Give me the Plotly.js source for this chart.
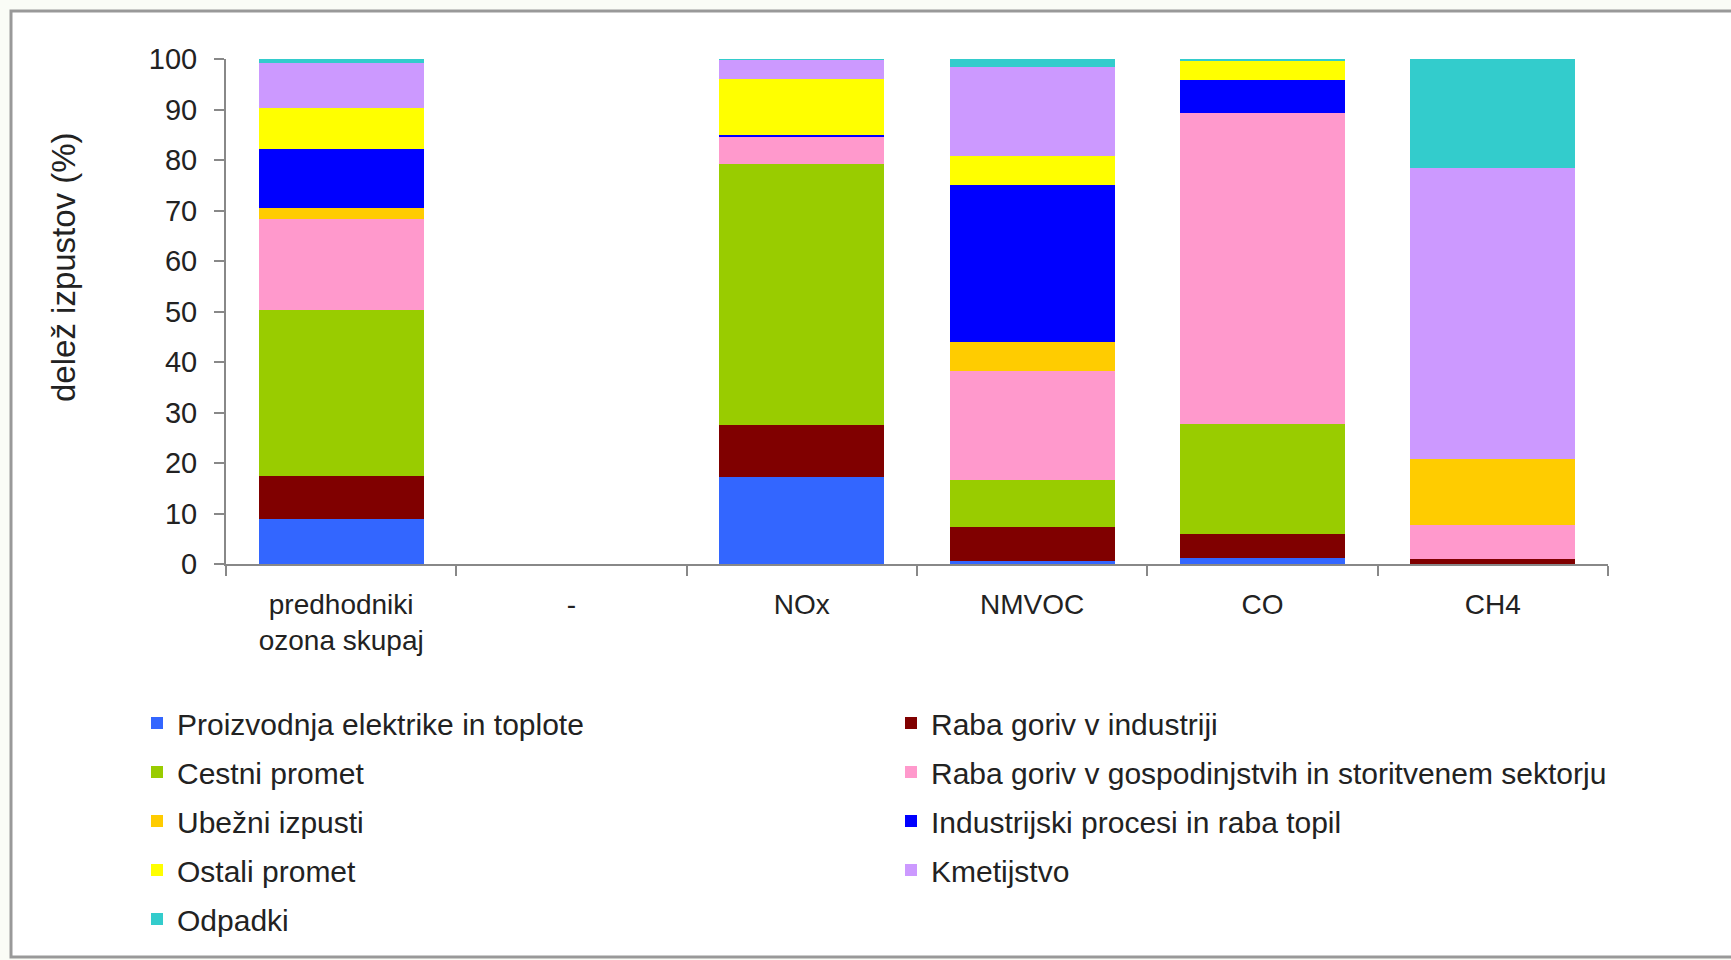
<!DOCTYPE html>
<html>
<head>
<meta charset="utf-8">
<script src="https://cdn.plot.ly/plotly-3.0.1.min.js"></script>
<style>
  html, body { margin: 0; padding: 0; background: #fafcf6; }
  #chart { width: 1731px; height: 960px; }
</style>
</head>
<body>
<div id="chart"></div>
<script>
// Delež izpustov predhodnikov ozona po sektorjih (%)
const categories = ['predhodniki<br>ozona skupaj', '-', 'NOx', 'NMVOC', 'CO', 'CH4'];

const proizvodnja   = [9.0,  null, 17.2,  0.5,  1.2,  0.1];
const industrija    = [8.4,  null, 10.3,  6.8,  4.8,  0.8];
const cestni        = [32.9, null, 51.7,  9.3, 21.8,  0.1];
const gospodinjstva = [18.0, null,  5.3, 21.6, 61.6,  6.8];
const ubezni        = [2.2,  null,  0.0,  5.8,  0.0, 13.0];
const procesi       = [11.6, null,  0.5, 31.1,  6.4,  0.0];
const ostali        = [8.2,  null, 11.1,  5.6,  3.9,  0.0];
const kmetijstvo    = [8.9,  null,  3.7, 17.8,  0.0, 57.6];
const odpadki       = [0.8,  null,  0.2,  1.5,  0.3, 21.6];

// series in stacking order (bottom to top); legend column per series
const series = [
  { name: 'Proizvodnja elektrike in toplote', y: proizvodnja, color: '#3366FF', legend: 'legend' },
  { name: 'Raba goriv v industriji', y: industrija, color: '#800000', legend: 'legend2' },
  { name: 'Cestni promet', y: cestni, color: '#99CC00', legend: 'legend' },
  { name: 'Raba goriv v gospodinjstvih in storitvenem sektorju', y: gospodinjstva, color: '#FF99CC', legend: 'legend2' },
  { name: 'Ubežni izpusti', y: ubezni, color: '#FFCC00', legend: 'legend' },
  { name: 'Industrijski procesi in raba topil', y: procesi, color: '#0000FF', legend: 'legend2' },
  { name: 'Ostali promet', y: ostali, color: '#FFFF00', legend: 'legend' },
  { name: 'Kmetijstvo', y: kmetijstvo, color: '#CC99FF', legend: 'legend2' },
  { name: 'Odpadki', y: odpadki, color: '#33CCCC', legend: 'legend' }
];

const traces = series.map((s, i) => ({
  type: 'bar',
  name: s.name,
  x: categories,
  y: s.y,
  marker: { color: s.color, line: { width: 0 } },
  legend: s.legend,
  legendgroup: 'g' + i,
  hoverinfo: 'name+y'
}));

const FONT = 'Liberation Sans, Arial, sans-serif';
const W = 1731, H = 960;
const L = 226, R = 1608, T = 59, B = 564;
const pw = R - L, ph = B - T;
const px = v => (v - L) / pw;
const py = v => (B - v) / ph;

const legendCommon = {
  orientation: 'v',
  traceorder: 'grouped',
  tracegroupgap: 7,
  font: { family: FONT, size: 30, color: '#222' },
  bgcolor: 'rgba(0,0,0,0)',
  borderwidth: 0,
  xref: 'container', yref: 'container',
  xanchor: 'left', yanchor: 'top'
};

const layout = {
  width: W, height: H,
  margin: { l: L, r: W - R, t: T, b: H - B, pad: 0, autoexpand: false },
  paper_bgcolor: '#fafcf6',
  plot_bgcolor: 'rgba(0,0,0,0)',
  barmode: 'stack',
  bargap: 0.283,
  font: { family: FONT, size: 28, color: '#222' },
  xaxis: {
    type: 'category',
    categoryorder: 'array',
    categoryarray: categories,
    tickson: 'boundaries',
    tickangle: 0,
    ticks: 'outside', ticklen: 10, tickwidth: 2, tickcolor: '#888',
    showline: true, linecolor: '#888', linewidth: 2,
    showgrid: false, zeroline: false,
    ticklabelstandoff: 14,
    tickfont: { family: FONT, size: 28, color: '#222' },
    automargin: false,
    fixedrange: true
  },
  yaxis: {
    range: [0, 100],
    dtick: 10,
    ticks: 'outside', ticklen: 10, tickwidth: 2, tickcolor: '#888',
    showline: true, linecolor: '#888', linewidth: 2,
    showgrid: false, zeroline: false,
    ticklabelstandoff: 11,
    tickfont: { family: FONT, size: 29, color: '#222' },
    automargin: false,
    fixedrange: true
  },
  showlegend: true,
  legend: Object.assign({}, legendCommon, { x: 137 / W, y: 1 - 697 / H }),
  legend2: Object.assign({}, legendCommon, { x: 891 / W, y: 1 - 697 / H }),
  annotations: [{
    text: 'delež izpustov (%)',
    textangle: -90,
    xref: 'paper', yref: 'paper',
    x: px(63), y: py(267),
    xanchor: 'center', yanchor: 'middle',
    showarrow: false,
    font: { family: FONT, size: 33, color: '#222' }
  }],
  shapes: [{
    type: 'rect', layer: 'below',
    xref: 'paper', yref: 'paper',
    x0: px(11), x1: px(1745), y0: py(957), y1: py(11),
    line: { color: '#999', width: 3 },
    fillcolor: '#ffffff'
  }]
};

Plotly.newPlot('chart', traces, layout, { displayModeBar: false, staticPlot: true });
</script>
</body>
</html>
